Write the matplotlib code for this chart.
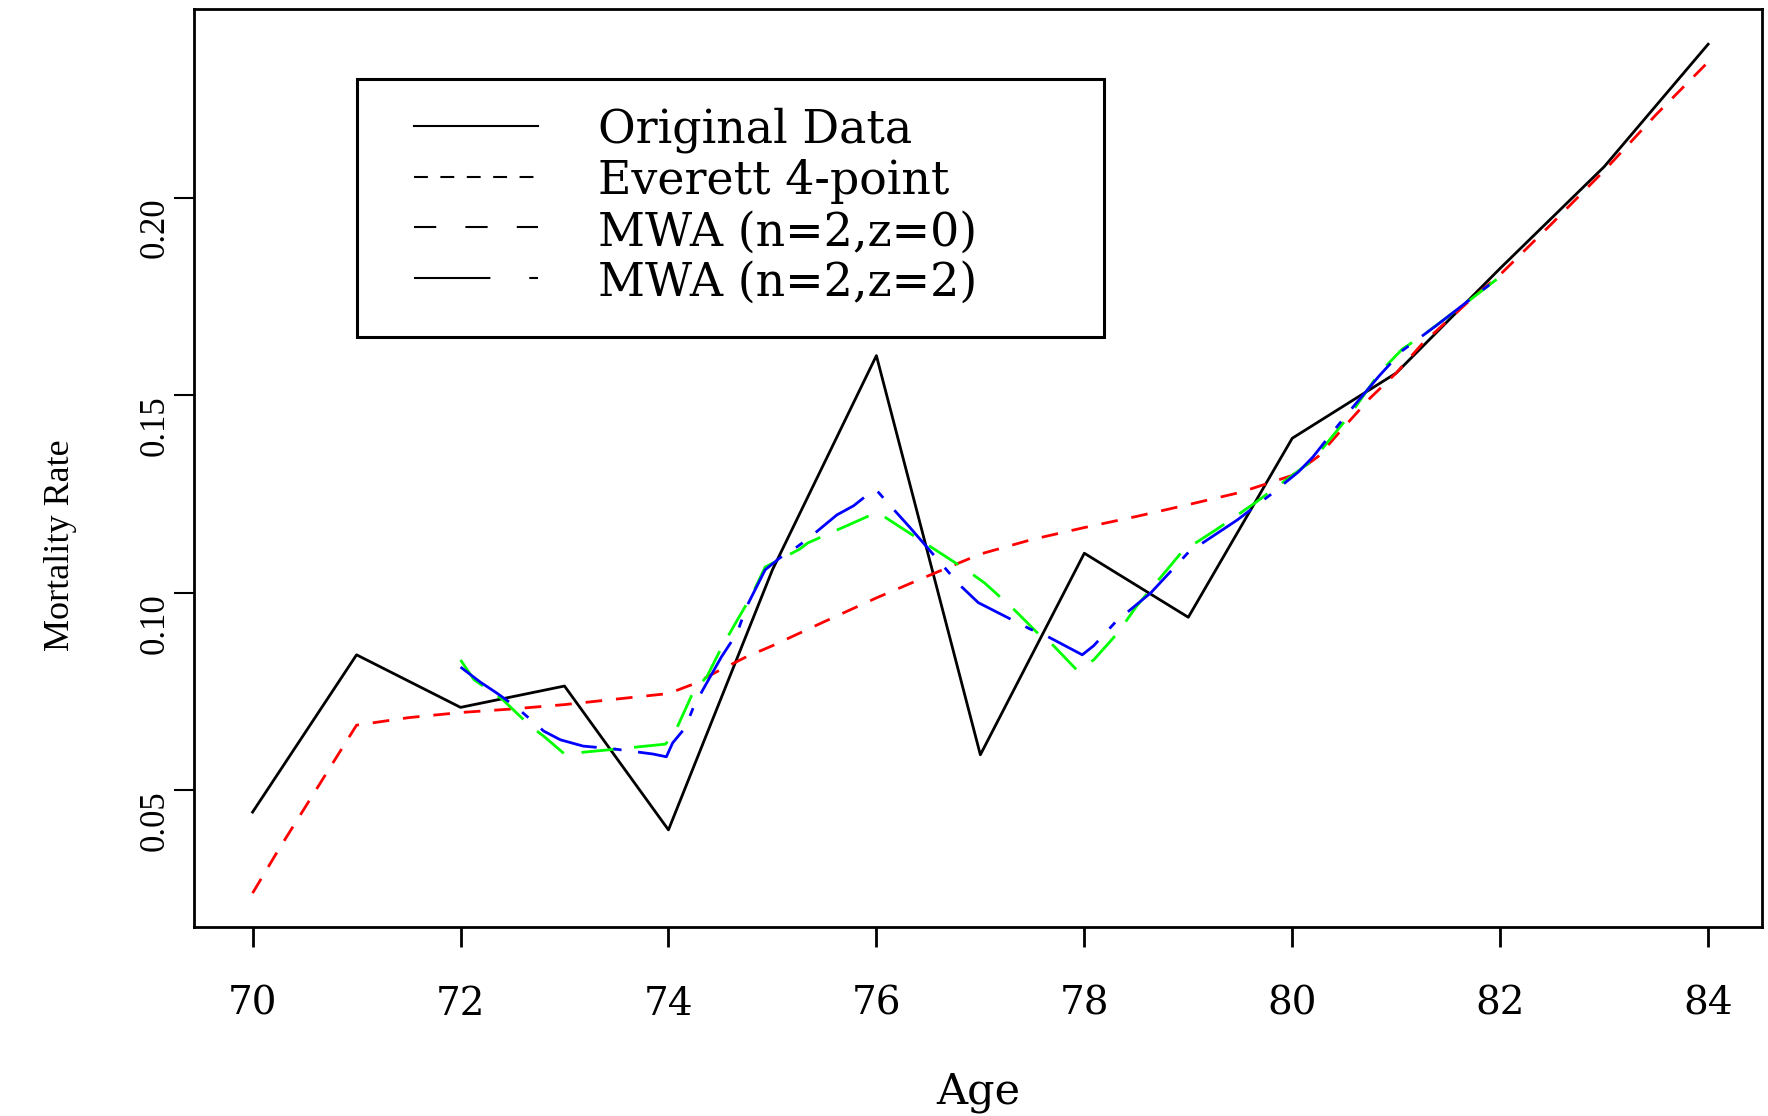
import matplotlib.pyplot as plt
import matplotlib.patches as patches

plt.rcParams['font.family'] = 'DejaVu Serif'
plt.rcParams['lines.scale_dashes'] = False

# original graduated data, one point per age
ages = list(range(70, 85))
original = [0.0445, 0.0843, 0.0710, 0.0764, 0.0400, 0.1058, 0.1600, 0.0590,
            0.1100, 0.0938, 0.1391, 0.1556, 0.1821, 0.2078, 0.2388]

# Everett 4-point interpolation
everett_age = [70.0, 70.25, 70.5, 70.75, 71.0, 71.5, 72.0, 72.5, 73.0, 73.5,
               74.0, 74.25, 74.5, 74.75, 75.0, 75.5, 76.0, 76.5, 77.0, 77.5,
               78.0, 78.5, 79.0, 79.5, 80.0, 80.25, 80.5, 80.75, 81.0, 81.25,
               81.5, 81.75, 82.0, 82.5, 83.0, 83.5, 84.0]
everett = [0.0240, 0.0350, 0.0455, 0.0560, 0.0665, 0.0684, 0.0697, 0.0706,
           0.0717, 0.0731, 0.0745, 0.0770, 0.0805, 0.0838, 0.0866, 0.0927,
           0.0987, 0.1043, 0.1098, 0.1135, 0.1165, 0.1193, 0.1223, 0.1254,
           0.1297, 0.1345, 0.1420, 0.1493, 0.1556, 0.1630, 0.1690, 0.1750,
           0.1805, 0.1935, 0.2068, 0.2210, 0.2343]

# MWA (n=2, z=0)
mwa0_age = [72.0, 72.13, 72.4, 72.67, 72.81, 73.0, 73.52, 73.97, 74.05, 74.24,
            74.37, 74.51, 74.66, 74.8, 74.93, 75.26, 75.34, 75.77, 76.0, 76.09,
            76.5, 76.87, 77.04, 77.33, 77.57, 77.66, 77.93, 78.09, 78.32, 78.5,
            78.94, 79.27, 79.64, 80.2, 80.56, 80.84, 81.06, 81.25, 81.68, 82.0]
mwa0 = [0.0830, 0.0780, 0.0731, 0.0663, 0.0635, 0.0592, 0.0605, 0.0617,
        0.0640, 0.0750, 0.0788, 0.0861, 0.0930, 0.0993, 0.1065, 0.1110,
        0.1126, 0.1176, 0.1203, 0.1190, 0.1120, 0.1057, 0.1025, 0.0956,
        0.0893, 0.0878, 0.0804, 0.0830, 0.0898, 0.0965, 0.1104, 0.1160,
        0.1227, 0.1336, 0.1452, 0.1557, 0.1617, 0.1650, 0.1735, 0.1800]

# MWA (n=2, z=2)
mwa2_age = [72.0, 72.19, 72.35, 72.54, 72.8, 72.96, 73.18, 73.47, 73.85, 73.98,
            74.04, 74.16, 74.24, 74.33, 74.51, 74.66, 74.75, 74.93, 75.07,
            75.22, 75.34, 75.62, 75.78, 75.91, 76.0, 76.09, 76.32, 76.8, 76.98,
            77.48, 77.62, 77.8, 77.98, 78.09, 78.3, 78.64, 79.0, 79.47, 79.79,
            80.06, 80.2, 80.38, 80.6, 80.84, 81.06, 81.39, 81.68, 82.0]
mwa2 = [0.0812, 0.0774, 0.0746, 0.0710, 0.0650, 0.0628, 0.0612, 0.0605,
        0.0592, 0.0585, 0.0620, 0.0658, 0.0710, 0.0754, 0.0838, 0.0898,
        0.0964, 0.1058, 0.1088, 0.1113, 0.1136, 0.1197, 0.1220, 0.1247,
        0.1260, 0.1233, 0.1166, 0.1020, 0.0975, 0.0908, 0.0893, 0.0868,
        0.0843, 0.0866, 0.0926, 0.1000, 0.1102, 0.1184, 0.1248, 0.1306,
        0.1344, 0.1404, 0.1475, 0.1550, 0.1613, 0.1677, 0.1736, 0.1800]

legend_labels = ['Original Data', 'Everett 4-point', 'MWA (n=2,z=0)', 'MWA (n=2,z=2)']
x_ticks = [70, 72, 74, 76, 78, 80, 82, 84]
y_ticks = [0.05, 0.10, 0.15, 0.20]
y_ticklabels = ['0.05', '0.10', '0.15', '0.20']

fig = plt.figure(figsize=(17.68, 11.16), dpi=100)
ax = fig.add_axes([0.1097, 0.1694, 0.8869, 0.8225])

ax.plot(ages, original, color='black', lw=2, zorder=2)
ax.plot(everett_age, everett, color='#ff0000', lw=2, dashes=(12, 10), zorder=3)
ax.plot(mwa0_age, mwa0, color='#00ff00', lw=2, dashes=(25, 13), zorder=4)
ax.plot(mwa2_age, mwa2, color='#0000ff', lw=2, dashes=(43, 12, 6, 12), zorder=5)

ax.set_xlim(69.436, 84.518)
ax.set_ylim(0.01544, 0.2477)

for s in ax.spines.values():
    s.set_linewidth(2)

ax.set_xticks(x_ticks)
ax.set_xticklabels([str(t) for t in x_ticks], fontsize=28)
ax.set_yticks(y_ticks)
ax.set_yticklabels(y_ticklabels, rotation=90, va='top', fontsize=25,
                   family='Liberation Serif')
ax.tick_params(axis='x', direction='out', length=14.4, width=2, pad=28)
ax.tick_params(axis='y', direction='out', length=14.4, width=1.5, pad=2)

ax.set_xlabel('Age', fontsize=31)
ax.xaxis.set_label_coords(0.5, -0.157)
ax.set_ylabel('Mortality Rate', fontsize=26, family='Liberation Serif')
ax.yaxis.set_label_coords(-0.0746, 0.416)

# legend box drawn by hand, handles are black as in the original
box = patches.Rectangle((0.104, 0.6427), 0.4764, 0.281, transform=ax.transAxes,
                        fc='white', ec='black', lw=2.2, zorder=10)
ax.add_patch(box)
handle_dashes = [None, (10, 9), (16, 21), (55, 28, 7, 28)]
line_y = [0.8729, 0.8173, 0.7628, 0.7066]
text_y = [0.8544, 0.7980, 0.7424, 0.6874]
for lab, dsh, ly, ty in zip(legend_labels, handle_dashes, line_y, text_y):
    ln, = ax.plot([0.1403, 0.2194], [ly, ly], transform=ax.transAxes,
                  color='black', lw=1.5, zorder=11)
    if dsh is not None:
        ln.set_dashes(dsh)
    ax.text(0.2577, ty, lab, transform=ax.transAxes, fontsize=33,
            va='baseline', ha='left', zorder=11)

fig.savefig('out.png', dpi=100)
